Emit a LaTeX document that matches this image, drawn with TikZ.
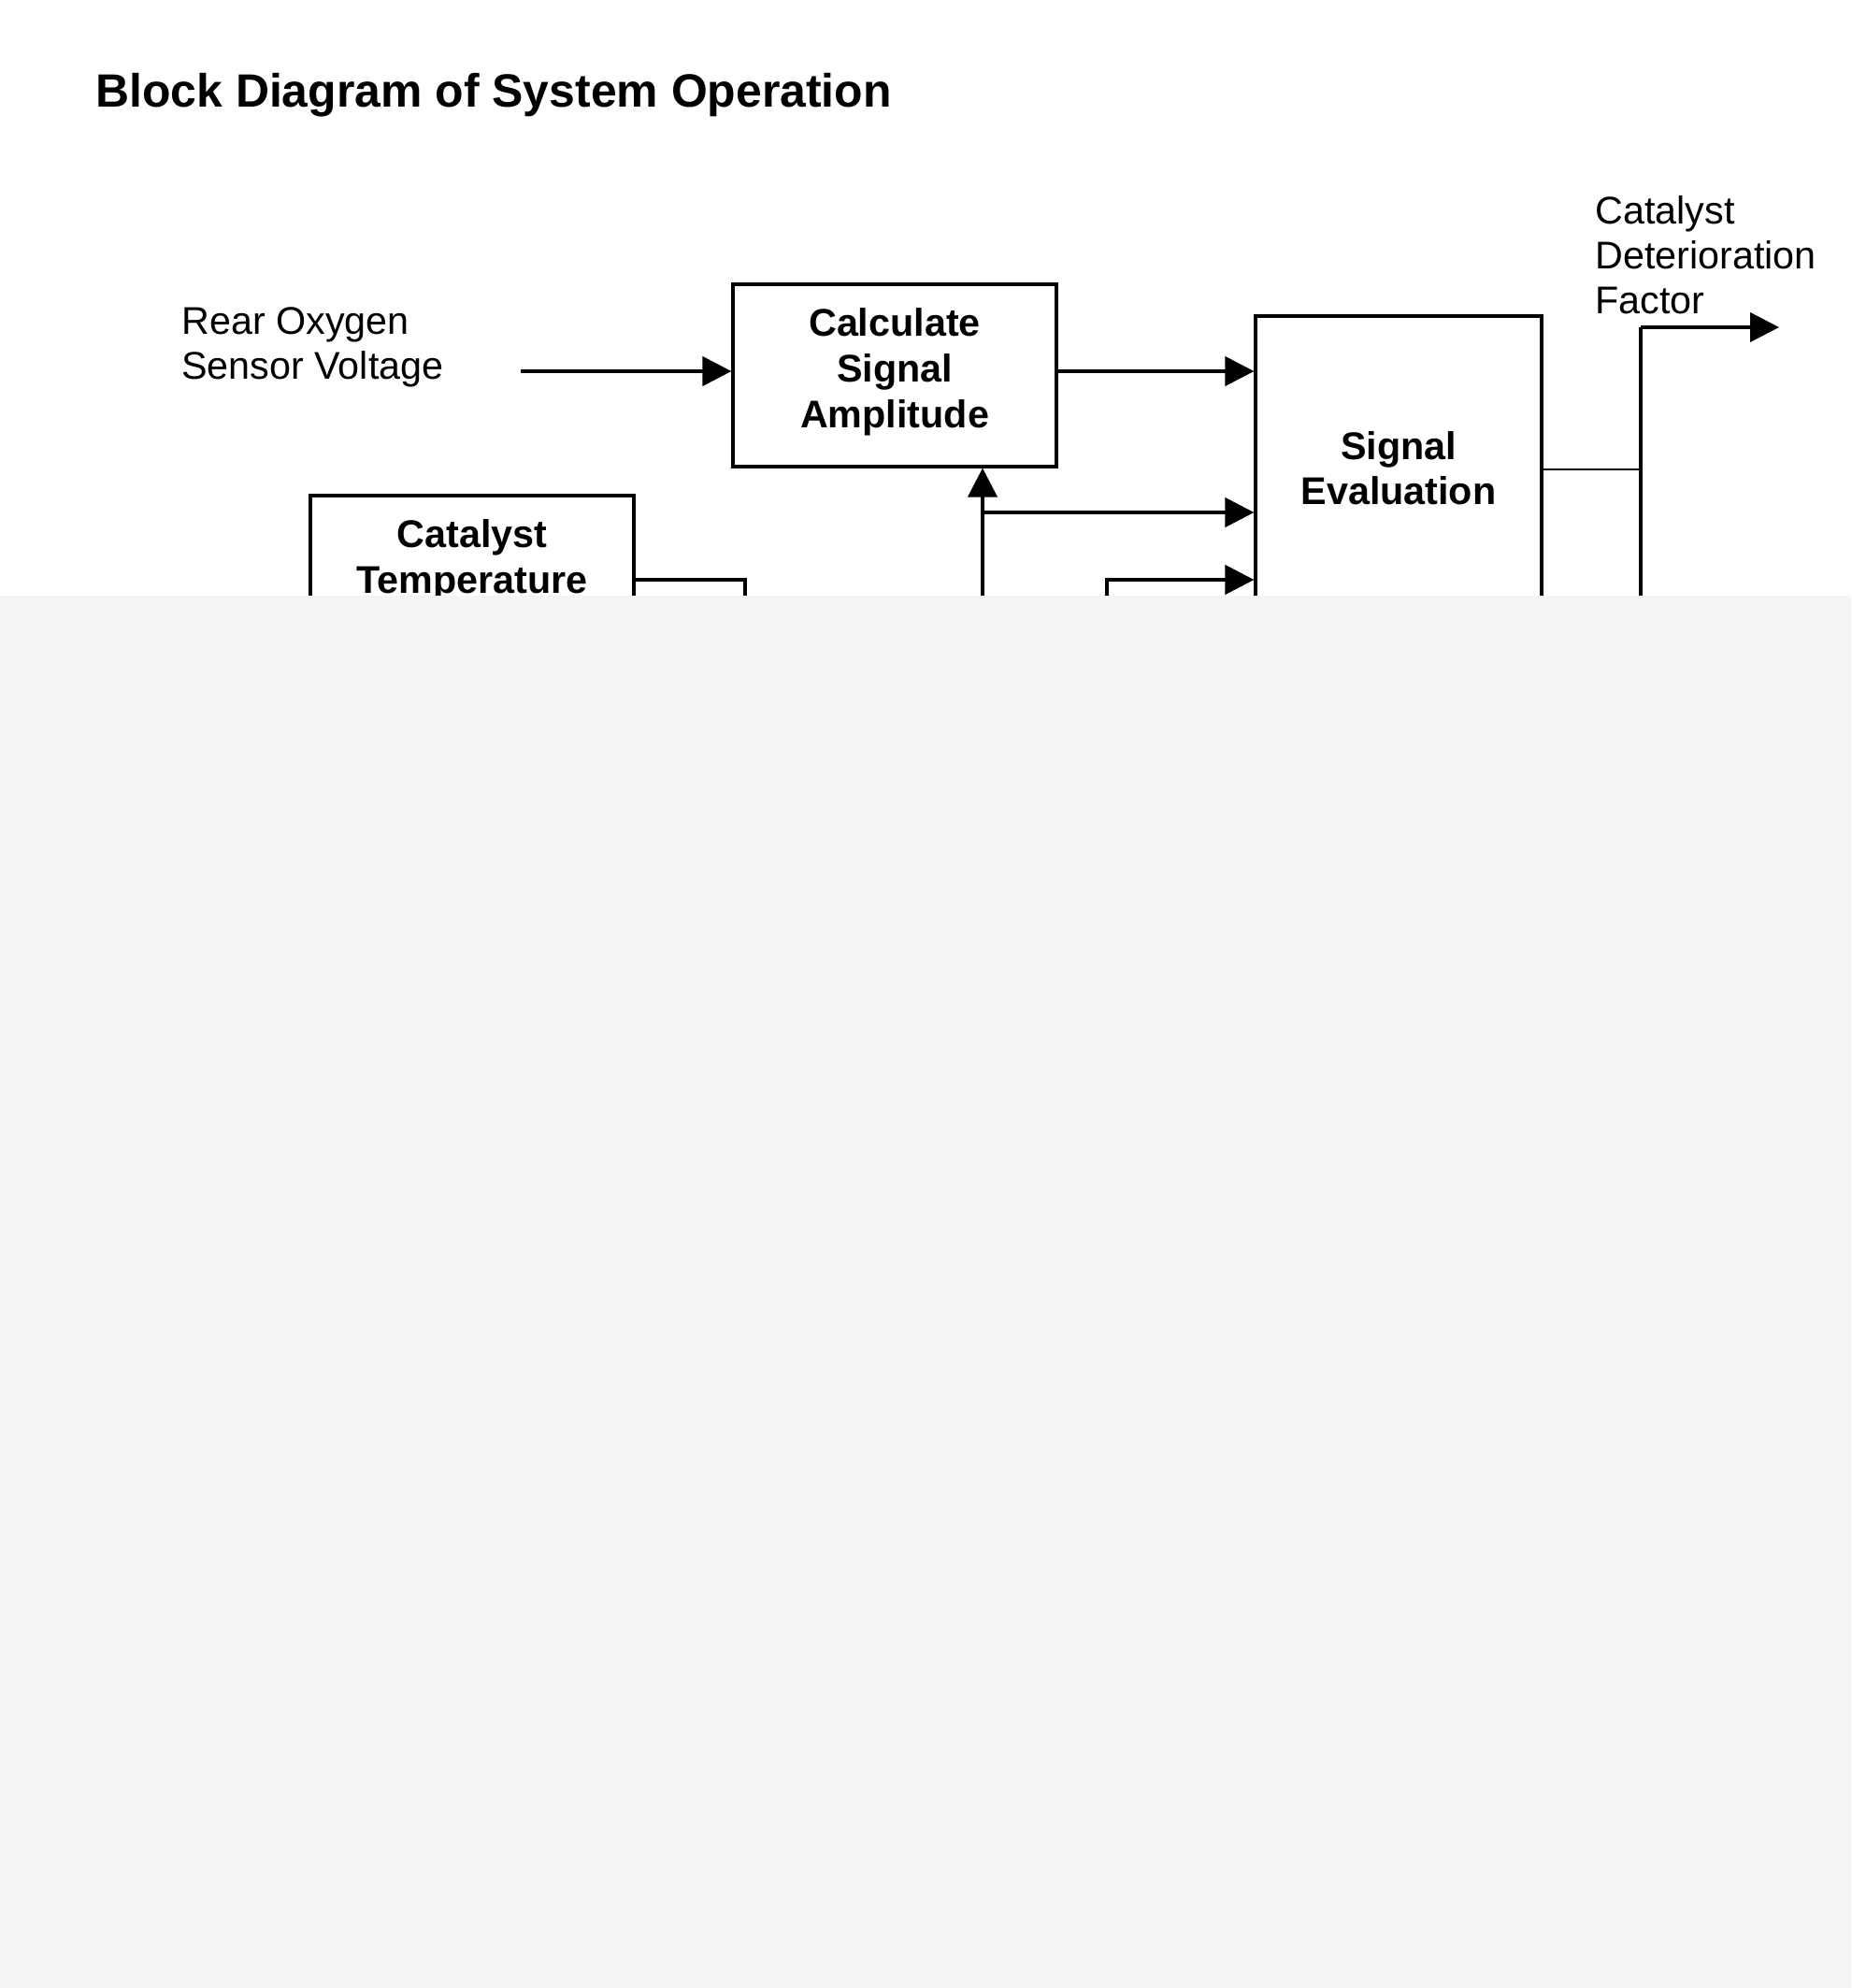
\documentclass[tikz,border=0pt]{standalone}
\usepackage{fontspec}
\setmainfont{Liberation Sans}
\usetikzlibrary{arrows.meta, positioning, calc}
\definecolor{coverwash}{HTML}{F5F5F5}

\begin{document}
\begin{tikzpicture}[
  blockbox/.style={draw, line width=1.8pt, minimum width=6.92cm, inner sep=0pt, align=center, font=\fontsize{23.5}{27.8}\selectfont\bfseries},
  signalline/.style={line width=2.4pt},
  signalarrow/.style={signalline, -{Triangle[length=0.62cm,width=0.62cm]}},
  plainlabel/.style={align=left, inner sep=0pt, anchor=west, font=\fontsize{23.5}{27.3}\selectfont}
]
  % Page frame
  \useasboundingbox (0,0) rectangle (39.6,-42.52);

  % Title
  \node[anchor=base west, inner sep=0pt, font=\fontsize{28.4}{30}\selectfont\bfseries] (title) at (2.04,-2.28) {Block Diagram of System Operation};

  % Blocks
  \node[blockbox, text depth=0.33cm, minimum height=3.9cm] (calc) at (19.14,-8.03) {Calculate\\Signal\\Amplitude};
  \node[blockbox, text depth=0.06cm, minimum width=6.12cm, minimum height=6.56cm] (evalbox) at (29.92,-10.04) {Signal\\Evaluation};
  \node[blockbox, text depth=0cm, minimum height=2.6cm] (cattemp) at (10.1,-11.9) {Catalyst\\Temperature};

  % Input and output labels
  \node[plainlabel] (rearvolt) at (3.88,-7.42) {Rear Oxygen\\Sensor Voltage};
  \node[plainlabel] (detfactor) at (34.12,-5.46) {Catalyst\\Deterioration\\Factor};

  % Connection points
  \coordinate (rearstart) at (11.14,-7.94);
  \coordinate (tempturn) at (15.94,-12.4);
  \coordinate (tempdown) at (15.94,-13.6);
  \coordinate (ampfeed) at (21.02,-13.6);
  \coordinate (ampsplit) at (21.02,-10.96);
  \coordinate (lowfeed) at (23.68,-13.6);
  \coordinate (lowturn) at (23.68,-12.4);
  \coordinate (outjoin) at (35.1,-10.04);
  \coordinate (outbottom) at (35.1,-13.6);
  \coordinate (outturn) at (35.1,-7.0);
  \coordinate (outend) at (38.06,-7.0);

  % Signal paths
  \draw[signalarrow] (rearstart) -- (rearstart -| calc.west);
  \draw[signalarrow] (rearstart -| calc.east) -- (rearstart -| evalbox.west);
  \draw[signalarrow] (ampfeed) -- (calc.south -| ampfeed);
  \draw[signalarrow] (ampsplit) -- (ampsplit -| evalbox.west);
  \draw[signalarrow] (lowfeed) -- (lowturn) -- (lowturn -| evalbox.west);
  \draw[signalline] (tempturn -| cattemp.east) -- (tempturn) -- (tempdown);
  \draw[line width=1.2pt] (evalbox.east) -- (outjoin);
  \draw[line width=1.8pt] (outbottom) -- (outturn);
  \draw[signalarrow] (outturn) -- (outend);

  % Faded lower part
  \fill[coverwash] (0,-12.74) rectangle (39.6,-42.52);
\end{tikzpicture}
\end{document}
